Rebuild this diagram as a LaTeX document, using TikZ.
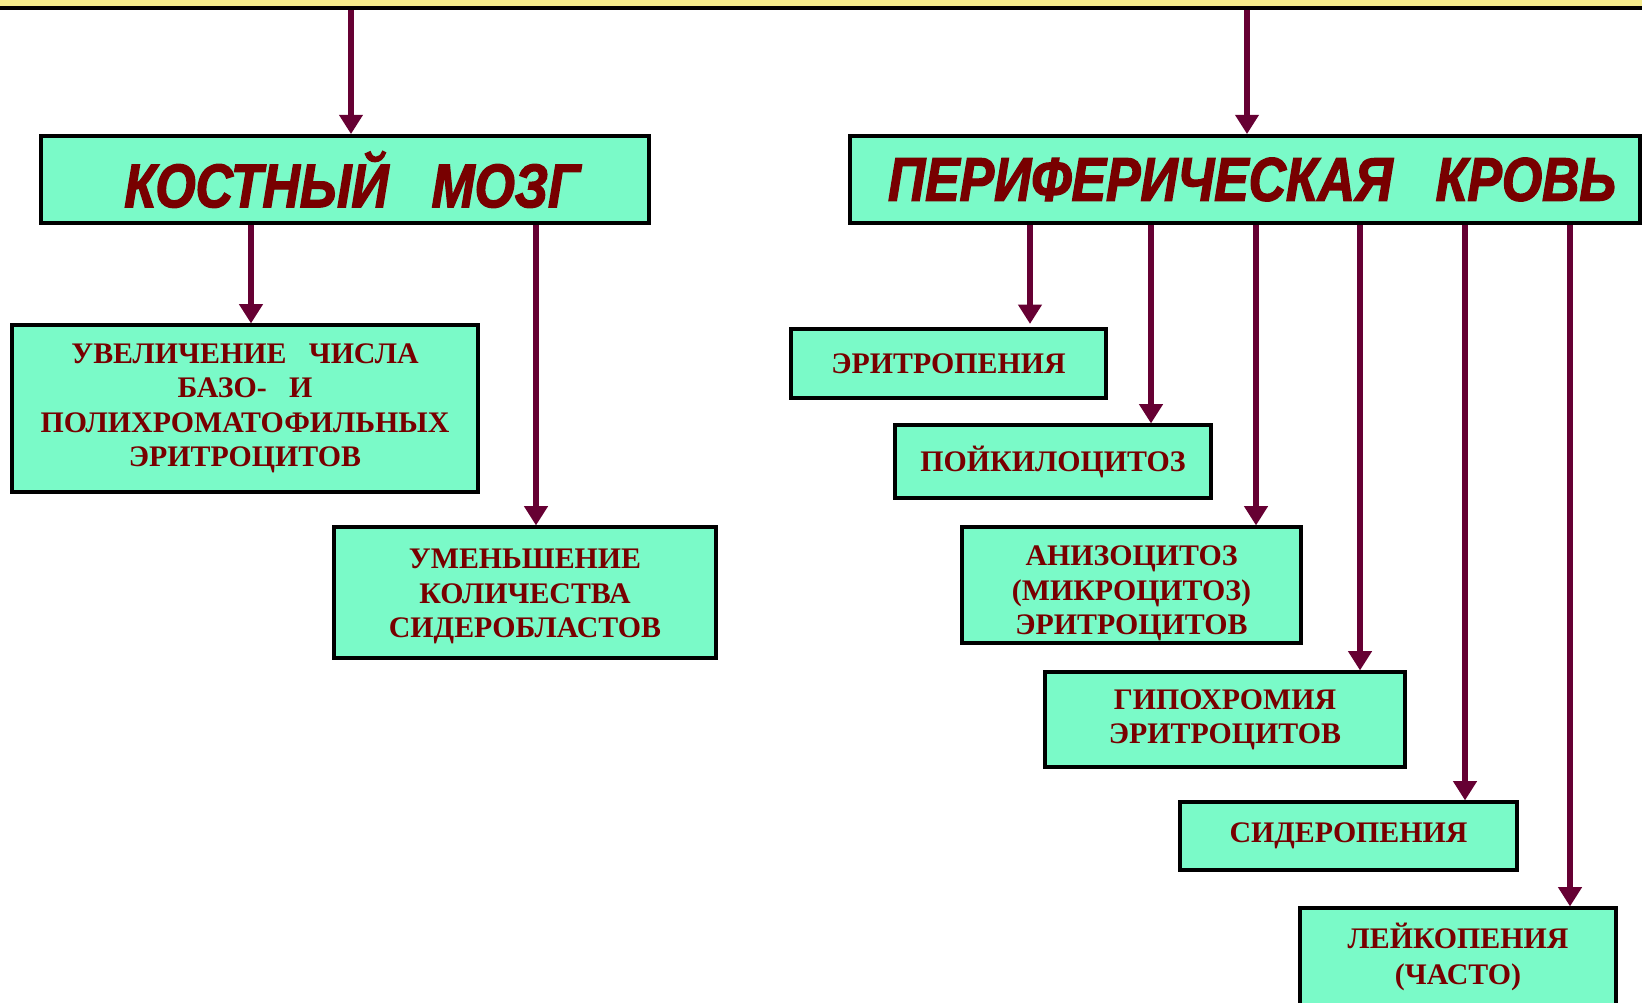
\documentclass[tikz,border=0pt]{standalone}
\usepackage{fontspec}
\setmainfont{Liberation Serif}
\newfontfamily\hdr[FakeStretch=0.84,FakeBold=2.2]{Liberation Sans}
\usetikzlibrary{arrows.meta}
\definecolor{boxfill}{RGB}{122,250,200}
\definecolor{txtred}{RGB}{120,0,0}
\definecolor{arrcol}{RGB}{102,0,51}
\definecolor{barfill}{RGB}{245,235,140}
\tikzset{
  box/.style={draw=black, line width=1.8pt, fill=boxfill, align=center, inner sep=0pt,
    text=txtred, font=\bfseries\fontsize{17}{19.6}\selectfont},
  headbox/.style={box, line width=2.2pt, font=\hdr\bfseries\itshape\fontsize{35}{38}\selectfont},
  arr/.style={draw=arrcol, line width=3.4pt, -{Triangle[width=13pt,length=11pt]}}
}
\begin{document}
\begin{tikzpicture}[x=0.02cm,y=-0.02cm]
\useasboundingbox (0,0) rectangle (1642,1002);
\clip (0,0) rectangle (1642,1002);
\fill[barfill] (0,0) rectangle (1642,6);
\draw[line width=2.6pt, black] (0,8) -- (1642,8);

\node[headbox, minimum width=12.16cm, minimum height=1.74cm] (kost) at (345,179.5) {\hspace{8pt}КОСТНЫЙ\ \ \ МОЗГ};
\node[headbox, minimum width=15.8cm, minimum height=1.74cm] (peri) at (1245,179.5) {\hspace{8pt}ПЕРИФЕРИЧЕСКАЯ\ \ \ КРОВЬ};

\node[box, minimum width=9.32cm, minimum height=3.34cm] (uvel) at (245,408.5)
  {УВЕЛИЧЕНИЕ\ \ \ ЧИСЛА\\БАЗО-\ \ \ И\\ПОЛИХРОМАТОФИЛЬНЫХ\\ЭРИТРОЦИТОВ};
\node[box, minimum width=7.64cm, minimum height=2.62cm] (umen) at (525,592.5)
  {\rule{0pt}{16pt}УМЕНЬШЕНИЕ\\КОЛИЧЕСТВА\\СИДЕРОБЛАСТОВ};

\node[box, minimum width=6.3cm, minimum height=1.38cm] (erit) at (948.5,363.5) {ЭРИТРОПЕНИЯ};
\node[box, minimum width=6.32cm, minimum height=1.46cm] (poik) at (1053,461.5) {ПОЙКИЛОЦИТОЗ};
\node[box, minimum width=6.78cm, minimum height=2.32cm] (aniz) at (1131.5,585) {\rule{0pt}{21pt}АНИЗОЦИТОЗ\\(МИКРОЦИТОЗ)\\ЭРИТРОЦИТОВ};
\node[box, minimum width=7.2cm, minimum height=1.9cm] (gipo) at (1225,719.5) {ГИПОХРОМИЯ\\ЭРИТРОЦИТОВ};
\node[box, minimum width=6.74cm, minimum height=1.36cm] (side) at (1348.5,836) {СИДЕРОПЕНИЯ};
\node[box, minimum width=6.32cm, minimum height=2.14cm] (leik) at (1458,961.5) {ЛЕЙКОПЕНИЯ\\[1pt](ЧАСТО)\rule[-9pt]{0pt}{9pt}};

\coordinate (t1) at (351,10);
\coordinate (t2) at (1247,10);
\coordinate (k1) at (251,0);
\coordinate (k2) at (536,0);
\coordinate (p1) at (1030,0);
\coordinate (p2) at (1151,0);
\coordinate (p3) at (1256,0);
\coordinate (p4) at (1360,0);
\coordinate (p5) at (1465,0);
\coordinate (p6) at (1570,0);

\draw[arr] (t1) -- (t1 |- kost.north);
\draw[arr] (t2) -- (t2 |- peri.north);
\draw[arr] (k1 |- kost.south) -- (k1 |- uvel.north);
\draw[arr] (k2 |- kost.south) -- (k2 |- umen.north);
\draw[arr] (p1 |- peri.south) -- ([yshift=2pt]p1 |- erit.north);
\draw[arr] (p2 |- peri.south) -- (p2 |- poik.north);
\draw[arr] (p3 |- peri.south) -- (p3 |- aniz.north);
\draw[arr] (p4 |- peri.south) -- (p4 |- gipo.north);
\draw[arr] (p5 |- peri.south) -- (p5 |- side.north);
\draw[arr] (p6 |- peri.south) -- (p6 |- leik.north);
\end{tikzpicture}
\end{document}
